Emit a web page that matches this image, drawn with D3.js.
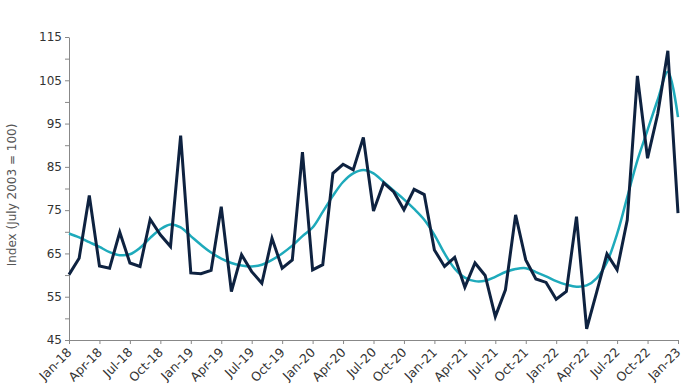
<!DOCTYPE html>
<html>
<head>
<meta charset="utf-8">
<script src="https://cdn.jsdelivr.net/npm/d3@7"></script>
<style>
body { margin: 0; background: #fff; }
</style>
</head>
<body>
<div id="chart"></div>
<script>

// monthly labels Jan-18 .. Jan-23
var months = d3.range(61).map(function(i) { return d3.timeFormat("%b-%y")(new Date(2018, i, 1)) })

// monthly index (dark line)
var monthly = [60.1, 63.9, 78.4, 62.1, 61.6, 69.9, 62.8, 62.0, 72.9, 69.3, 66.6, 92.2,
               60.5, 60.3, 61.1, 75.8, 56.2, 64.7, 60.8, 58.1, 68.5, 61.6, 63.5, 88.4,
               61.2, 62.4, 83.5, 85.6, 84.3, 91.8, 74.8, 81.3, 79.2, 75.1, 79.8, 78.6,
               65.8, 62.0, 64.1, 57.2, 62.8, 59.9, 50.4, 56.6, 73.9, 63.5, 59.1, 58.3,
               54.4, 56.2, 73.5, 47.6, 56.2, 64.9, 61.2, 72.7, 106.0, 87.0, 97.2, 111.8,
               74.3]

// smoothed trend (teal line)
var trend = [69.6, 68.7, 67.6, 66.5, 65.3, 64.6, 64.8, 66.3, 68.6, 70.6, 71.7, 71.0,
             69.0, 67.0, 65.2, 63.8, 62.8, 62.2, 62.0, 62.4, 63.5, 65.0, 66.8, 69.0,
             71.0, 74.6, 78.3, 81.5, 83.5, 84.3, 83.5, 81.5, 79.5, 77.5, 75.3, 72.8,
             69.3, 65.0, 61.5, 59.4, 58.6, 58.7, 59.6, 60.7, 61.4, 61.6, 60.7, 59.7,
             58.6, 57.8, 57.3, 57.6, 59.3, 63.0, 69.5, 78.0, 86.5, 93.5, 100.5, 107.0,
             96.5]

var yTicks = d3.range(45, 116, 5)
var xTickLabels = months.filter(function(d, i) { return i % 3 == 0 })

var width = 699, height = 391
var plotLeft = 69, plotRight = 678, plotTop = 37, plotBottom = 340
var fontFam = "'DejaVu Sans', Verdana, sans-serif"

var svg = d3.select("#chart").append("svg")
  .attr("width", width)
  .attr("height", height)

var x = d3.scalePoint().domain(months).range([plotLeft, plotRight])
var y = d3.scaleLinear().domain([45, 115]).range([plotBottom, plotTop])

// y axis
var yAxis = svg.append("g")
  .attr("transform", "translate(" + plotLeft + ",0)")
  .call(d3.axisLeft(y).tickValues(yTicks).tickSize(4).tickSizeOuter(0)
    .tickFormat(function(d) { return d % 10 == 5 ? d : "" }))
  .attr("font-family", fontFam)
  .attr("font-size", 12)
yAxis.select(".domain").attr("stroke", "#888")
yAxis.selectAll(".tick line").attr("stroke", "#888")
yAxis.selectAll(".tick text")
  .attr("fill", "#333")
  .attr("x", -7)

// x axis
var xAxis = svg.append("g")
  .attr("transform", "translate(0," + plotBottom + ")")
  .call(d3.axisBottom(x).tickValues(xTickLabels).tickSize(4).tickSizeOuter(0))
  .attr("font-family", fontFam)
  .attr("font-size", 12.5)
xAxis.select(".domain").attr("stroke", "#888")
xAxis.selectAll(".tick line").attr("stroke", "#888")
xAxis.selectAll(".tick text")
  .attr("fill", "#333")
  .attr("text-anchor", "end")
  .attr("dy", null)
  .attr("x", 0)
  .attr("y", 0)
  .attr("transform", "translate(3,13) rotate(-45)")

// y title
svg.append("text")
  .attr("transform", "translate(16,195) rotate(-90)")
  .attr("text-anchor", "middle")
  .attr("fill", "#555")
  .attr("font-family", fontFam)
  .attr("font-size", 12)
  .text("Index (July 2003 = 100)")

var line = d3.line()
  .x(function(d, i) { return x(months[i]) })
  .y(function(d) { return y(d) })

svg.append("path")
  .datum(trend)
  .attr("fill", "none")
  .attr("stroke", "#1eaabb")
  .attr("stroke-width", 2.5)
  .attr("d", line.curve(d3.curveCatmullRom))

svg.append("path")
  .datum(monthly)
  .attr("fill", "none")
  .attr("stroke", "#0e2240")
  .attr("stroke-width", 3)
  .attr("stroke-linejoin", "miter")
  .attr("d", line.curve(d3.curveLinear))

</script>
</body>
</html>
